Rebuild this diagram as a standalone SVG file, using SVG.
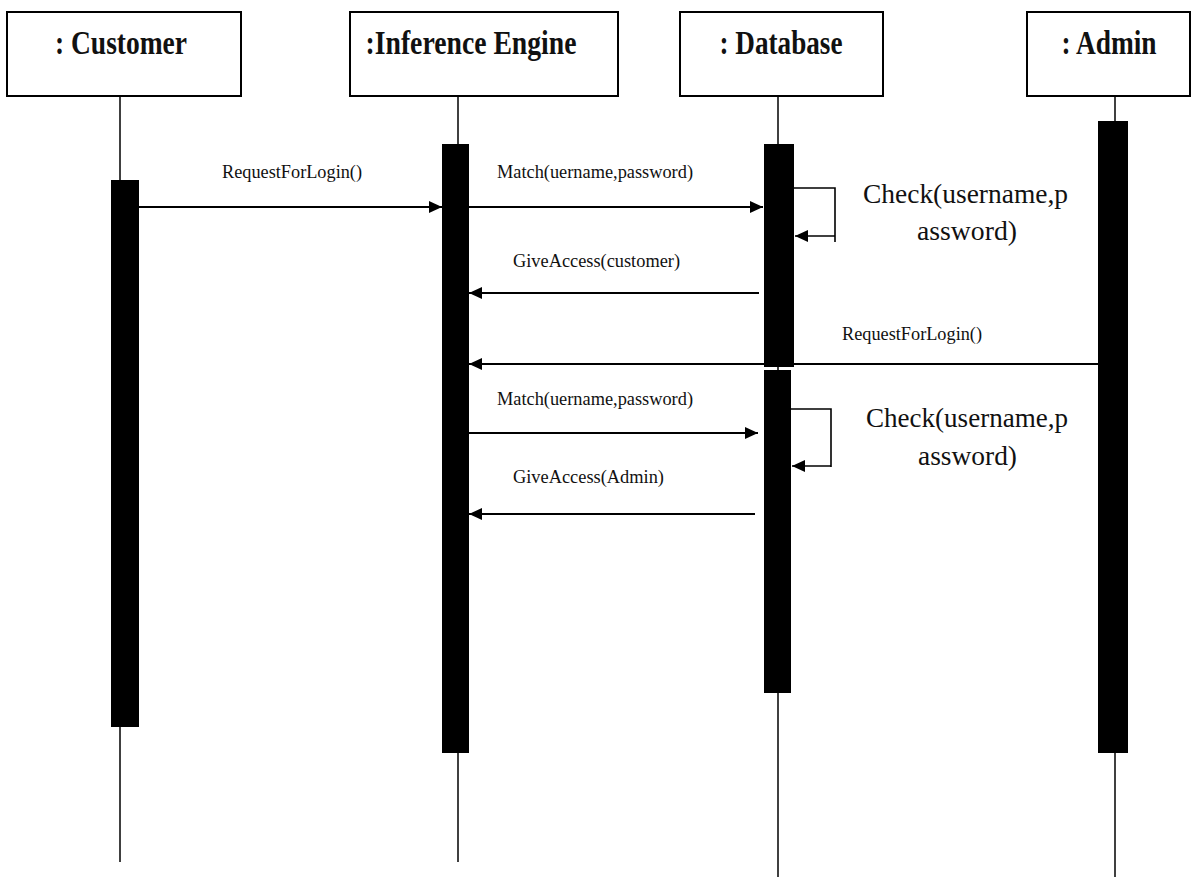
<svg xmlns="http://www.w3.org/2000/svg" width="1191" height="877" viewBox="0 0 1191 877">
  <defs>
    <style>
      .box { fill: #ffffff; stroke: #000000; stroke-width: 2; }
      .head { font-family: "Liberation Serif", "Times New Roman", serif; font-weight: bold; font-size: 33px; fill: #111111; text-anchor: middle; }
      .life { stroke: #000000; stroke-width: 1.5; fill: none; }
      .bar { fill: #000000; }
      .msg { stroke: #000000; stroke-width: 2; fill: none; }
      .loop { stroke: #000000; stroke-width: 1.6; fill: none; }
      .lbl { font-family: "Liberation Serif", "Times New Roman", serif; font-size: 18px; fill: #111111; }
      .note { font-family: "Liberation Serif", "Times New Roman", serif; font-size: 28px; fill: #111111; }
    </style>
    <marker id="arrow" viewBox="0 0 13 12" refX="13" refY="6" markerWidth="13" markerHeight="12" markerUnits="userSpaceOnUse" orient="auto">
      <path d="M0,0 L13,6 L0,12 Z" fill="#000000"/>
    </marker>
  </defs>
  <rect width="1191" height="877" fill="#ffffff"/>

  <!-- lifeline: Customer -->
  <g id="customer">
    <rect class="box" x="7" y="12" width="234" height="84"/>
    <text class="head" x="121" y="54" textLength="132" lengthAdjust="spacingAndGlyphs">: Customer</text>
    <line class="life" x1="120" y1="96" x2="120" y2="862"/>
    <rect class="bar" x="111" y="180" width="28" height="547"/>
  </g>

  <!-- lifeline: Inference Engine -->
  <g id="inference-engine">
    <rect class="box" x="350" y="12" width="268" height="84"/>
    <text class="head" x="471" y="54" textLength="211" lengthAdjust="spacingAndGlyphs">:Inference Engine</text>
    <line class="life" x1="458" y1="96" x2="458" y2="862"/>
    <rect class="bar" x="442" y="144" width="27" height="609"/>
  </g>

  <!-- lifeline: Database -->
  <g id="database">
    <rect class="box" x="680" y="12" width="203" height="84"/>
    <text class="head" x="781" y="54" textLength="123" lengthAdjust="spacingAndGlyphs">: Database</text>
    <line class="life" x1="778" y1="96" x2="778" y2="877"/>
    <rect class="bar" x="764" y="144" width="30" height="223"/>
    <rect class="bar" x="764" y="370" width="27" height="323"/>
  </g>

  <!-- lifeline: Admin -->
  <g id="admin">
    <rect class="box" x="1027" y="12" width="163" height="84"/>
    <text class="head" x="1109" y="54" textLength="95" lengthAdjust="spacingAndGlyphs">: Admin</text>
    <line class="life" x1="1115" y1="96" x2="1115" y2="877"/>
    <rect class="bar" x="1098" y="121" width="30" height="632"/>
  </g>

  <!-- messages -->
  <g id="connectors">
    <line class="msg" x1="139" y1="207" x2="442" y2="207" marker-end="url(#arrow)"/>
    <text class="lbl" x="222" y="178" textLength="140" lengthAdjust="spacingAndGlyphs">RequestForLogin()</text>

    <line class="msg" x1="469" y1="207" x2="763" y2="207" marker-end="url(#arrow)"/>
    <text class="lbl" x="497" y="178" textLength="196" lengthAdjust="spacingAndGlyphs">Match(uername,password)</text>

    <polyline class="loop" points="794,188 835,188 835,242"/>
    <line class="loop" x1="835" y1="236" x2="795" y2="236" marker-end="url(#arrow)"/>
    <text class="note" x="863" y="203" textLength="205" lengthAdjust="spacingAndGlyphs">Check(username,p</text>
    <text class="note" x="917" y="240" textLength="100" lengthAdjust="spacingAndGlyphs">assword)</text>

    <line class="msg" x1="759" y1="293" x2="469" y2="293" marker-end="url(#arrow)"/>
    <text class="lbl" x="513" y="267" textLength="167" lengthAdjust="spacingAndGlyphs">GiveAccess(customer)</text>

    <line class="msg" x1="1098" y1="364" x2="469" y2="364" marker-end="url(#arrow)"/>
    <text class="lbl" x="842" y="340" textLength="140" lengthAdjust="spacingAndGlyphs">RequestForLogin()</text>

    <line class="msg" x1="469" y1="433" x2="758" y2="433" marker-end="url(#arrow)"/>
    <text class="lbl" x="497" y="405" textLength="196" lengthAdjust="spacingAndGlyphs">Match(uername,password)</text>

    <polyline class="loop" points="791,409 831,409 831,467"/>
    <line class="loop" x1="831" y1="466" x2="792" y2="466" marker-end="url(#arrow)"/>
    <text class="note" x="866" y="427" textLength="202" lengthAdjust="spacingAndGlyphs">Check(username,p</text>
    <text class="note" x="918" y="465" textLength="99" lengthAdjust="spacingAndGlyphs">assword)</text>

    <line class="msg" x1="755" y1="514" x2="469" y2="514" marker-end="url(#arrow)"/>
    <text class="lbl" x="513" y="483" textLength="151" lengthAdjust="spacingAndGlyphs">GiveAccess(Admin)</text>
  </g>
</svg>
